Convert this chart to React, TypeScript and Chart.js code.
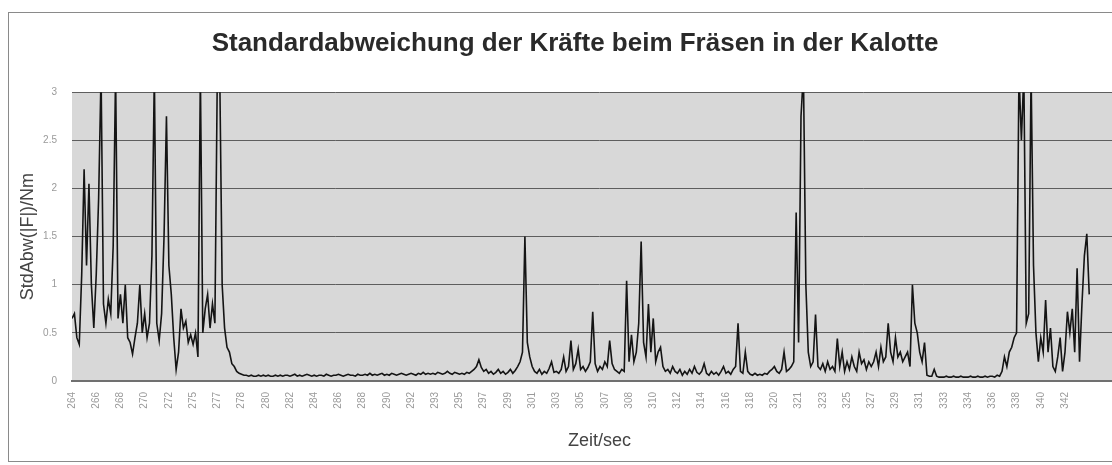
import React, { useEffect, useRef } from 'react';
import { Chart, registerables } from 'chart.js';

Chart.register(...registerables);

const chartTitle = 'Standardabweichung der Kräfte beim Fräsen in der Kalotte';
const xAxisTitle = 'Zeit/sec';
const yAxisTitle = 'StdAbw(|F|)/Nm';

const tickLabels: string[] = [
  '264', '266', '268', '270', '272', '275', '277', '278', '280', '282',
  '284', '286', '288', '290', '292', '293', '295', '297', '299', '301',
  '303', '305', '307', '308', '310', '312', '314', '316', '318', '320',
  '321', '323', '325', '327', '329', '331', '333', '334', '336', '338',
  '340', '342',
];

// samples between two consecutive tick labels
const samplesPerLabel = 10;

// standard deviation of |F| in Nm, one value per sample
const stdAbw: number[] = [
  0.65, 0.7, 0.45, 0.38, 1.1, 2.2, 1.2, 2.05, 1.0, 0.55,
  1.1, 1.9, 3.2, 0.8, 0.6, 0.85, 0.7, 1.4, 3.2, 0.65,
  0.9, 0.6, 1.0, 0.45, 0.4, 0.28, 0.45, 0.6, 1.0, 0.5,
  0.7, 0.45, 0.6, 1.3, 3.2, 0.6, 0.42, 0.7, 1.5, 2.75,
  1.2, 0.9, 0.45, 0.12, 0.3, 0.75, 0.55, 0.62, 0.4, 0.48,
  0.38, 0.5, 0.25, 3.2, 0.5, 0.75, 0.9, 0.55, 0.8, 0.6,
  3.2, 3.2, 1.0, 0.55, 0.35, 0.3, 0.18, 0.15, 0.1, 0.08,
  0.07, 0.06, 0.06, 0.05, 0.06, 0.05, 0.05, 0.06, 0.05, 0.06,
  0.05, 0.06, 0.05, 0.05, 0.06, 0.05, 0.06, 0.05, 0.06, 0.06,
  0.05, 0.06, 0.07, 0.05, 0.06, 0.05, 0.06, 0.07, 0.06, 0.05,
  0.06, 0.05, 0.06, 0.06, 0.05, 0.07, 0.06, 0.05, 0.06, 0.06,
  0.07, 0.06, 0.05, 0.06, 0.07, 0.06, 0.06, 0.05, 0.07, 0.06,
  0.06, 0.07, 0.06, 0.08, 0.06, 0.07, 0.06, 0.07, 0.08, 0.06,
  0.07, 0.06, 0.08, 0.07, 0.06, 0.07, 0.08, 0.07, 0.06, 0.07,
  0.08, 0.07, 0.06, 0.08, 0.07, 0.09, 0.07, 0.08, 0.07, 0.08,
  0.07, 0.09, 0.08, 0.07, 0.08, 0.1, 0.08, 0.07, 0.09, 0.08,
  0.07, 0.08, 0.07, 0.09, 0.08, 0.1, 0.12, 0.15, 0.22, 0.14,
  0.1, 0.12, 0.08, 0.1, 0.07, 0.09, 0.12, 0.08, 0.1, 0.07,
  0.09, 0.12, 0.08, 0.11, 0.15, 0.2, 0.3, 1.5, 0.4, 0.25,
  0.15, 0.1, 0.08, 0.12, 0.07, 0.1, 0.08, 0.13, 0.2, 0.09,
  0.1, 0.08, 0.12, 0.25, 0.1, 0.15, 0.42, 0.12, 0.18, 0.33,
  0.12, 0.15, 0.1, 0.14, 0.2, 0.72, 0.18, 0.1, 0.15, 0.12,
  0.2, 0.15, 0.42, 0.18, 0.12, 0.1, 0.08, 0.12, 0.1, 1.04,
  0.2, 0.48, 0.2, 0.3, 0.6, 1.45, 0.4, 0.25, 0.8, 0.3,
  0.65, 0.2, 0.3, 0.35, 0.15, 0.1, 0.12, 0.08, 0.15, 0.1,
  0.08, 0.12, 0.06, 0.1, 0.07, 0.12, 0.08, 0.15, 0.09, 0.07,
  0.1, 0.18, 0.08, 0.06, 0.1, 0.07, 0.09, 0.06, 0.1, 0.15,
  0.08, 0.1, 0.07, 0.12, 0.15, 0.6, 0.1, 0.08, 0.3, 0.1,
  0.07, 0.06, 0.08, 0.06, 0.07, 0.06, 0.08, 0.07, 0.1, 0.12,
  0.15, 0.1, 0.08, 0.12, 0.3, 0.1, 0.12, 0.15, 0.2, 1.75,
  0.4, 2.75, 3.2, 1.0, 0.3, 0.15, 0.2, 0.69, 0.15, 0.12,
  0.18, 0.1, 0.2, 0.12, 0.15, 0.1, 0.44, 0.15, 0.3, 0.1,
  0.2, 0.12, 0.25, 0.15, 0.1, 0.3, 0.18, 0.22, 0.12, 0.2,
  0.15, 0.2, 0.3, 0.15, 0.35, 0.2, 0.25, 0.6, 0.3, 0.2,
  0.45, 0.25, 0.3, 0.2, 0.25, 0.3, 0.15, 1.0, 0.6, 0.5,
  0.3, 0.2, 0.4, 0.06, 0.05, 0.05, 0.12, 0.05, 0.04, 0.04,
  0.04, 0.05, 0.04, 0.04, 0.05, 0.04, 0.04, 0.05, 0.04, 0.04,
  0.04, 0.05, 0.04, 0.04, 0.05, 0.04, 0.04, 0.05, 0.04, 0.05,
  0.05, 0.04, 0.06, 0.05, 0.1, 0.25, 0.15, 0.3, 0.35, 0.45,
  0.5, 3.2, 2.5, 3.2, 0.6, 0.7, 3.2, 1.2, 0.5, 0.2,
  0.45, 0.3, 0.84, 0.3, 0.55, 0.15, 0.1, 0.25, 0.45, 0.1,
  0.3, 0.72, 0.5, 0.75, 0.3, 1.17, 0.2, 0.8, 1.3, 1.53,
  0.9,
];

const yMin = 0;
const yMax = 3;
const yStep = 0.5;

const plotBackground = {
  id: 'plotBackground',
  beforeDraw(chart: any) {
    const { ctx, chartArea } = chart;
    if (!chartArea) return;
    ctx.save();
    ctx.fillStyle = '#d8d8d8';
    ctx.fillRect(chartArea.left, chartArea.top, chartArea.right - chartArea.left, chartArea.bottom - chartArea.top);
    ctx.restore();
  },
};

export default function App() {
  const canvasRef = useRef<HTMLCanvasElement | null>(null);

  useEffect(() => {
    const canvas = canvasRef.current;
    if (!canvas) return;
    const points = stdAbw.map((v, i) => ({ x: i / samplesPerLabel, y: v }));
    const chart = new Chart(canvas, {
      type: 'line',
      data: {
        datasets: [
          {
            label: 'StdAbw',
            data: points,
            borderColor: '#141414',
            borderWidth: 1.6,
            pointRadius: 0,
            tension: 0,
            fill: false,
          },
        ],
      },
      options: {
        responsive: false,
        animation: false,
        devicePixelRatio: 1,
        layout: { padding: 0 },
        plugins: {
          legend: { display: false },
          tooltip: { enabled: false },
          title: {
            display: true,
            text: chartTitle,
            color: '#2a2a2a',
            font: { family: 'Liberation Sans', size: 26, weight: 'bold' },
            padding: { top: 28, bottom: 33 },
          },
        },
        scales: {
          x: {
            type: 'linear',
            min: 0,
            max: 43.56,
            afterFit: (scale: any) => {
              scale.height = 84;
            },
            grid: { display: false, drawTicks: false },
            border: { display: true, color: '#707070', width: 2 },
            ticks: {
              stepSize: 1,
              autoSkip: false,
              minRotation: 90,
              maxRotation: 90,
              padding: 11,
              color: '#9a9a9a',
              font: { family: 'Liberation Sans', size: 10 },
              callback: (value: any) => {
                const idx = Number(value);
                return Number.isInteger(idx) && tickLabels[idx] !== undefined ? tickLabels[idx] : '';
              },
            },
            title: {
              display: true,
              text: xAxisTitle,
              color: '#444',
              font: { family: 'Liberation Sans', size: 18 },
              padding: { top: 0, bottom: 13 },
            },
          },
          y: {
            min: yMin,
            max: yMax,
            afterFit: (scale: any) => {
              scale.width = 72;
            },
            grid: { color: '#5e5e5e', lineWidth: 1, drawTicks: false },
            border: { display: false },
            ticks: {
              stepSize: yStep,
              padding: 15,
              color: '#9a9a9a',
              font: { family: 'Liberation Sans', size: 10 },
              callback: (value: any) => String(value),
            },
            title: {
              display: true,
              text: yAxisTitle,
              color: '#444',
              font: { family: 'Liberation Sans', size: 18 },
              padding: { top: 17, bottom: 0 },
            },
          },
        },
      },
      plugins: [plotBackground],
    });
    return () => chart.destroy();
  }, []);

  return (
    <div
      style={{
        position: 'fixed',
        left: 0,
        top: 0,
        width: 1112,
        height: 465,
        overflow: 'hidden',
        background: '#ffffff',
      }}
    >
      <div
        style={{
          position: 'absolute',
          left: 8,
          top: 12,
          width: 1200,
          height: 450,
          border: '1px solid #8a8a8a',
          boxSizing: 'border-box',
        }}
      />
      <canvas
        ref={canvasRef}
        width={1150}
        height={465}
        style={{ position: 'absolute', left: 0, top: 0, width: 1150, height: 465 }}
      />
    </div>
  );
}
